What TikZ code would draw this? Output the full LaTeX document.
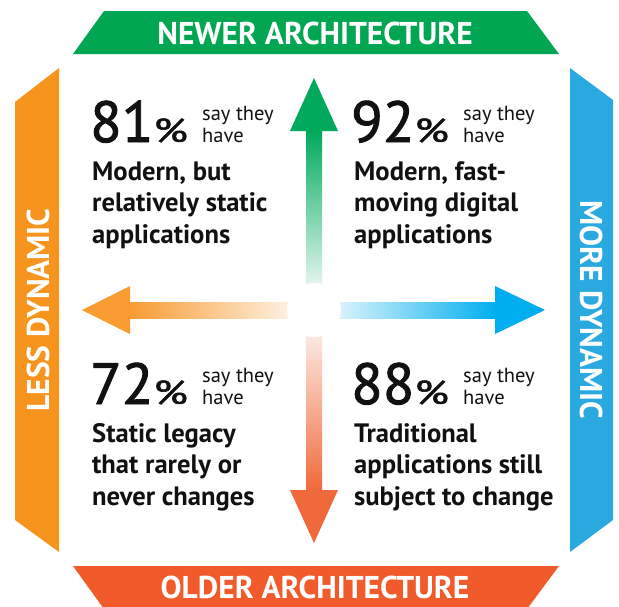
\documentclass[tikz,border=0pt]{standalone}
\usepackage{fontspec}
\usepackage{graphicx}
\setmainfont{PT Sans}
\newfontfamily\numfont{PT Sans}[FakeBold=1.6]
\definecolor{cgreen}{HTML}{00A651}
\definecolor{corange}{HTML}{F7941E}
\definecolor{cblue}{HTML}{29A9E0}
\definecolor{cred}{HTML}{F15A2B}
\definecolor{agreen}{HTML}{00A95C}
\definecolor{aorange}{HTML}{F89B31}
\definecolor{ablue}{HTML}{00AEEF}
\definecolor{ared}{HTML}{F0693A}
\definecolor{ink}{HTML}{111111}
\newcommand\mypct[1]{{\numfont\fontsize{58}{58}\selectfont #1}\kern0pt\scalebox{1.35}[1]{\numfont\fontsize{33}{33}\selectfont\%}}
\newcommand\mysay{\vtop{\baselineskip=22pt\hbox{say they}\hbox{have}}}
\newcommand\mylines[1]{\vtop{\baselineskip=31.5pt #1}}
\begin{document}
\begin{tikzpicture}[x=1pt,y=-1pt]
\tikzset{
 bannertxt/.style={text=white, font=\bfseries\fontsize{31.5}{31.5}\selectfont, inner sep=0pt, anchor=base},
 bignum/.style={text=ink, inner sep=0pt, anchor=base west},
 saytxt/.style={text=ink, font=\fontsize{20.5}{22}\selectfont, inner sep=0pt, anchor=base west},
 bodytxt/.style={text=ink, font=\bfseries\fontsize{26.6}{31.5}\selectfont, inner sep=0pt, anchor=base west},
}
\useasboundingbox (0,0) rectangle (619,606);
\clip (0,0) rectangle (619,606);
\fill[white] (0,0) rectangle (619,606);
% banners
\fill[cgreen] (104,11) -- (527,11) -- (559,54) -- (73,54) -- cycle;
\fill[cred] (73,566) -- (559,566) -- (527,609) -- (104,609) -- cycle;
\fill[corange] (15,102) -- (59,68) -- (59,552) -- (15,520) -- cycle;
\fill[cblue] (570,68) -- (613,100) -- (613,520) -- (570,552) -- cycle;
% arrows
\shade[top color=agreen, bottom color=agreen!8] (306,130) rectangle (322,290);
\fill[agreen] (290,131) -- (314,78) -- (338,131) -- cycle;
\shade[top color=ared!12, bottom color=ared] (306,330) rectangle (322,491);
\fill[ared] (290,490) -- (314,543) -- (338,490) -- cycle;
\shade[left color=aorange, right color=aorange!12] (129,302) rectangle (294,318);
\fill[aorange] (130,286) -- (82,310) -- (130,334) -- cycle;
\shade[left color=ablue!12, right color=ablue] (334,302) rectangle (496,318);
\fill[ablue] (495,286) -- (545,310) -- (495,334) -- cycle;
\fill[white] (314,310) circle (27pt);
% banner texts
\node[bannertxt] (newer) at (315,44) {NEWER ARCHITECTURE};
\node[bannertxt] (older) at (315,598) {OLDER ARCHITECTURE};
\node[bannertxt, rotate=90] (less) at (49,310) {LESS DYNAMIC};
\node[bannertxt, rotate=-90] (more) at (580,310) {MORE DYNAMIC};
% quadrants
\node[bignum] (n81) at (90,142) {\mypct{81}};
\node[saytxt] (s81) at (202,120) {\mysay};
\node[bodytxt] (t81) at (92,180) {\mylines{\hbox{Modern, but}\hbox{relatively static}\hbox{applications}}};
\node[bignum] (n92) at (351,142) {\mypct{92}};
\node[saytxt] (s92) at (463,120) {\mysay};
\node[bodytxt] (t92) at (354,180) {\mylines{\hbox{Modern, fast-}\hbox{moving digital}\hbox{applications}}};
\node[bignum] (n72) at (90,404) {\mypct{72}};
\node[saytxt] (s72) at (202,382) {\mysay};
\node[bodytxt] (t72) at (92,442) {\mylines{\hbox{Static legacy}\hbox{that rarely or}\hbox{never changes}}};
\node[bignum] (n88) at (351,404) {\mypct{88}};
\node[saytxt] (s88) at (463,382) {\mysay};
\node[bodytxt] (t88) at (354,442) {\mylines{\hbox{Traditional}\hbox{applications still}\hbox{subject to change}}};
\end{tikzpicture}
\end{document}
